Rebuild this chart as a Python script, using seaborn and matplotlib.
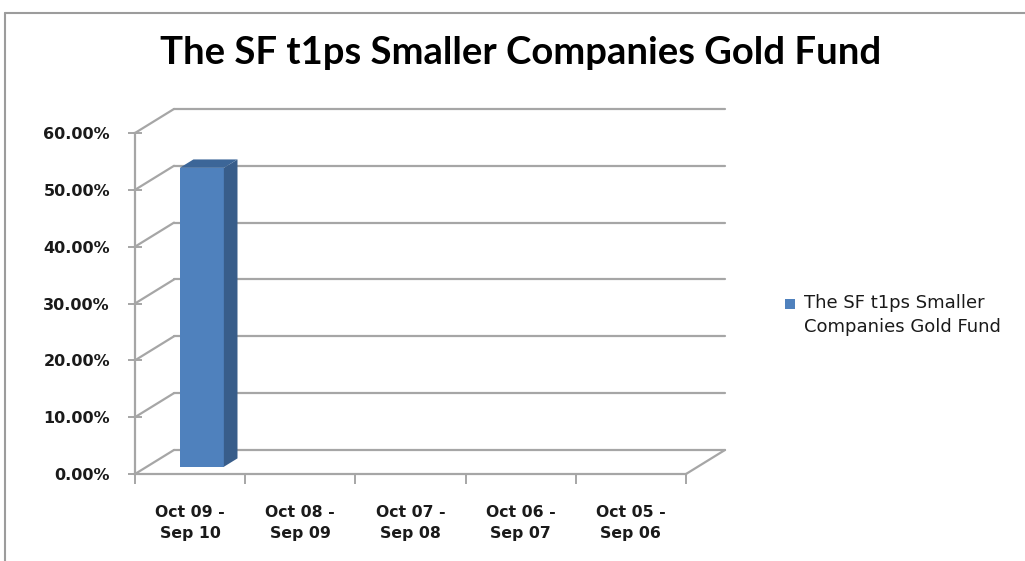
import numpy as np
import pandas as pd
import matplotlib
matplotlib.use("Agg")
import matplotlib.pyplot as plt
import seaborn as sns
from matplotlib.patches import Polygon, Rectangle
from matplotlib.ticker import PercentFormatter, FixedLocator

# data
periods = ["Oct 09 -\nSep 10", "Oct 08 -\nSep 09", "Oct 07 -\nSep 08",
           "Oct 06 -\nSep 07", "Oct 05 -\nSep 06"]
returns = [0.526, np.nan, np.nan, np.nan, np.nan]
series_name = "The SF t1ps Smaller Companies Gold Fund"
legend_label = "The SF t1ps Smaller\nCompanies Gold Fund"
y_ticks = [0.0, 0.1, 0.2, 0.3, 0.4, 0.5, 0.6]

df = pd.DataFrame({"period": periods, "return": returns})

sns.set_theme(style="white")
plt.rcParams["font.family"] = ["DejaVu Sans"]

BLUE = "#4F81BD"
SIDE = "#385D8A"
TOP = "#3C6698"
GRID = "#A6A6A6"
TXT = "#1a1a1a"

# fake 3d depth in data units
DX, DY = 0.354, 0.0423
F1, F2 = 0.30, 0.65   # bar front/back depth fraction

fig = plt.figure(figsize=(10.25, 5.61), dpi=100)
ax = fig.add_axes([135 / 1025, 1 - 474 / 561, 551 / 1025, 341 / 561])

sns.barplot(data=df, x="period", y="return", order=periods, color=BLUE,
            width=0.4, saturation=1, linewidth=0, ax=ax, zorder=3)

ax.set_xlim(-0.5, len(periods) - 0.5)
ax.set_ylim(0, 0.6)

# walls: back grid lines + diagonals
x0, x1 = -0.5, len(periods) - 0.5
for v in y_ticks:
    ax.plot([x0 + DX, x1 + DX], [v + DY, v + DY], color=GRID, lw=1.6,
            clip_on=False, zorder=1)
    ax.plot([x0, x0 + DX], [v, v + DY], color=GRID, lw=1.6,
            clip_on=False, zorder=1)
ax.plot([x1, x1 + DX], [0, DY], color=GRID, lw=1.6, clip_on=False, zorder=1)

# turn bars into boxes
for p in ax.patches:
    h = p.get_height()
    if not np.isfinite(h) or h == 0:
        continue
    bx, bw = p.get_x(), p.get_width()
    fx, fy = F1 * DX, F1 * DY
    bxo, byo = F2 * DX, F2 * DY
    p.set_xy((bx + fx, fy))
    p.set_edgecolor("none")
    p.set_clip_on(False)
    side = Polygon([(bx + bw + fx, fy), (bx + bw + bxo, byo),
                    (bx + bw + bxo, h + byo), (bx + bw + fx, h + fy)],
                   closed=True, facecolor=SIDE, edgecolor="none",
                   clip_on=False, zorder=3)
    top = Polygon([(bx + fx, h + fy), (bx + bxo, h + byo),
                   (bx + bw + bxo, h + byo), (bx + bw + fx, h + fy)],
                  closed=True, facecolor=TOP, edgecolor="none",
                  clip_on=False, zorder=3)
    ax.add_patch(side)
    ax.add_patch(top)

# axes styling
for s in ["top", "right"]:
    ax.spines[s].set_visible(False)
for s in ["left", "bottom"]:
    ax.spines[s].set_color(GRID)
    ax.spines[s].set_linewidth(1.6)

ax.yaxis.set_major_locator(FixedLocator(y_ticks))
ax.yaxis.set_major_formatter(PercentFormatter(xmax=1, decimals=2))
ax.tick_params(axis="y", which="major", direction="inout", length=10,
               width=1.4, color=GRID, left=True, pad=13,
               labelsize=11.5, labelcolor=TXT)
for t in ax.get_yticklabels():
    t.set_fontweight("bold")
    t.set_family(["DejaVu Sans"])

ax.set_xticks(np.arange(-0.5, len(periods)), minor=True)
ax.tick_params(axis="x", which="minor", direction="out", length=7,
               width=1.4, color=GRID, bottom=True)
ax.tick_params(axis="x", which="major", length=0, pad=22,
               labelsize=11.3, labelcolor=TXT)
for t in ax.get_xticklabels():
    t.set_fontweight("bold")
    t.set_family(["DejaVu Sans"])
    t.set_linespacing(1.55)

ax.set_xlabel("")
ax.set_ylabel("")

fig.text(0.508, 0.905, series_name, ha="center", va="center",
         fontsize=27.5, fontweight="bold", family=["Lato", "DejaVu Sans"],
         color="black")

# legend
fig.add_artist(Rectangle((785 / 1025, 1 - 309 / 561), 10 / 1025, 10 / 561,
                         transform=fig.transFigure, facecolor=BLUE,
                         edgecolor="none"))
fig.text(804 / 1025, 1 - 294 / 561, legend_label, ha="left", va="top",
         fontsize=13, color=TXT, linespacing=1.45,
         family=["DejaVu Sans"])

# outer chart border
fig.add_artist(plt.Line2D([5 / 1025, 5 / 1025], [0, 1 - 13 / 561],
                          transform=fig.transFigure, color="#9C9C9C", lw=1.5))
fig.add_artist(plt.Line2D([5 / 1025, 1], [1 - 13 / 561, 1 - 13 / 561],
                          transform=fig.transFigure, color="#9C9C9C", lw=1.5))

fig.savefig("out.png", dpi=100, facecolor="white")
